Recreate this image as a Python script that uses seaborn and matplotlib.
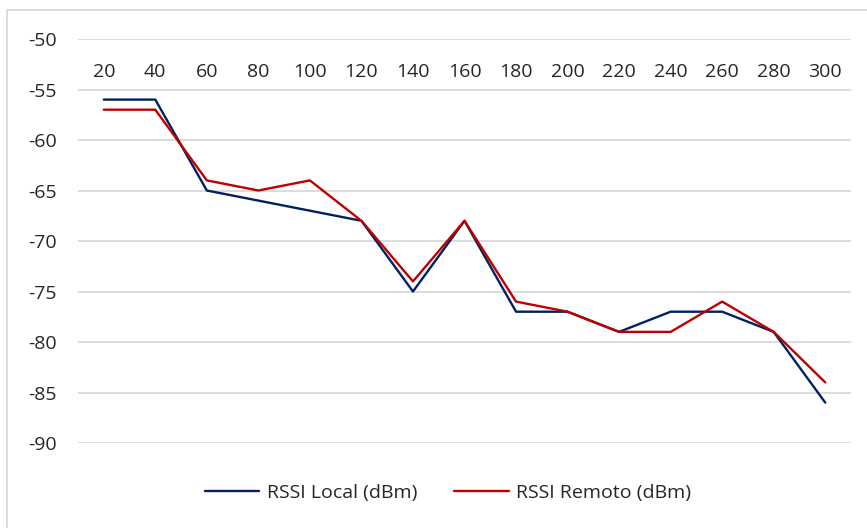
import matplotlib
matplotlib.use("Agg")
import matplotlib.pyplot as plt
from matplotlib.patches import Rectangle
import pandas as pd
import seaborn as sns

# distancias (m)
distancias = ["20", "40", "60", "80", "100", "120", "140", "160",
              "180", "200", "220", "240", "260", "280", "300"]
rssi_local = [-56, -56, -65, -66, -67, -68, -75, -68,
              -77, -77, -79, -77, -77, -79, -86]
rssi_remoto = [-57, -57, -64, -65, -64, -68, -74, -68,
               -76, -77, -79, -79, -76, -79, -84]
y_ticks = [-90, -85, -80, -75, -70, -65, -60, -55, -50]

df = pd.DataFrame({
    "dist": distancias * 2,
    "rssi": rssi_local + rssi_remoto,
    "serie": ["RSSI Local (dBm)"] * len(distancias) + ["RSSI Remoto (dBm)"] * len(distancias),
})

sns.set_theme(style="white")
plt.rcParams["font.family"] = ["Open Sans", "DejaVu Sans"]
plt.rcParams["axes.unicode_minus"] = False

W, H = 867, 528
fig = plt.figure(figsize=(W / 100, H / 100), dpi=100)
ax = fig.add_axes([78 / W, 1 - 443 / H, (851 - 78) / W, (443 - 39) / H])

# borde del grafico (estilo Excel)
fig.patches.append(Rectangle((7 / W, -0.1), 1.2, 1 - 10 / H + 0.1, transform=fig.transFigure,
                             fill=False, edgecolor="#D9D9D9", linewidth=1.3, zorder=0))

colores = {"RSSI Local (dBm)": "#002060", "RSSI Remoto (dBm)": "#C00000"}
sns.lineplot(data=df, x="dist", y="rssi", hue="serie", palette=colores,
             linewidth=1.7, sort=False, ax=ax, legend=False)

ax.set_xlim(-0.5, len(distancias) - 0.5)
ax.set_ylim(-90, -50)
ax.set_yticks(y_ticks)
ax.yaxis.grid(True, color="#D9D9D9", linewidth=1.3)
ax.set_axisbelow(True)
for s in ax.spines.values():
    s.set_visible(False)

fs = 14
ax.xaxis.set_ticks_position("top")
ax.tick_params(axis="x", top=False, bottom=False, labeltop=True, labelbottom=False,
               length=0, pad=-30, labelsize=fs, colors="#262626")
ax.tick_params(axis="y", length=0, pad=15, labelsize=fs, colors="#262626")
ax.set_xlabel("")
ax.set_ylabel("")

handles = [plt.Line2D([], [], color=c, linewidth=1.7) for c in colores.values()]
fig.legend(handles, list(colores.keys()), loc="center", ncol=2, frameon=False,
           bbox_to_anchor=(448 / W, 1 - 493 / H), fontsize=fs, handlelength=2.8,
           columnspacing=1.9, handletextpad=0.4, labelcolor="#262626")

fig.savefig("out.png", dpi=100)
